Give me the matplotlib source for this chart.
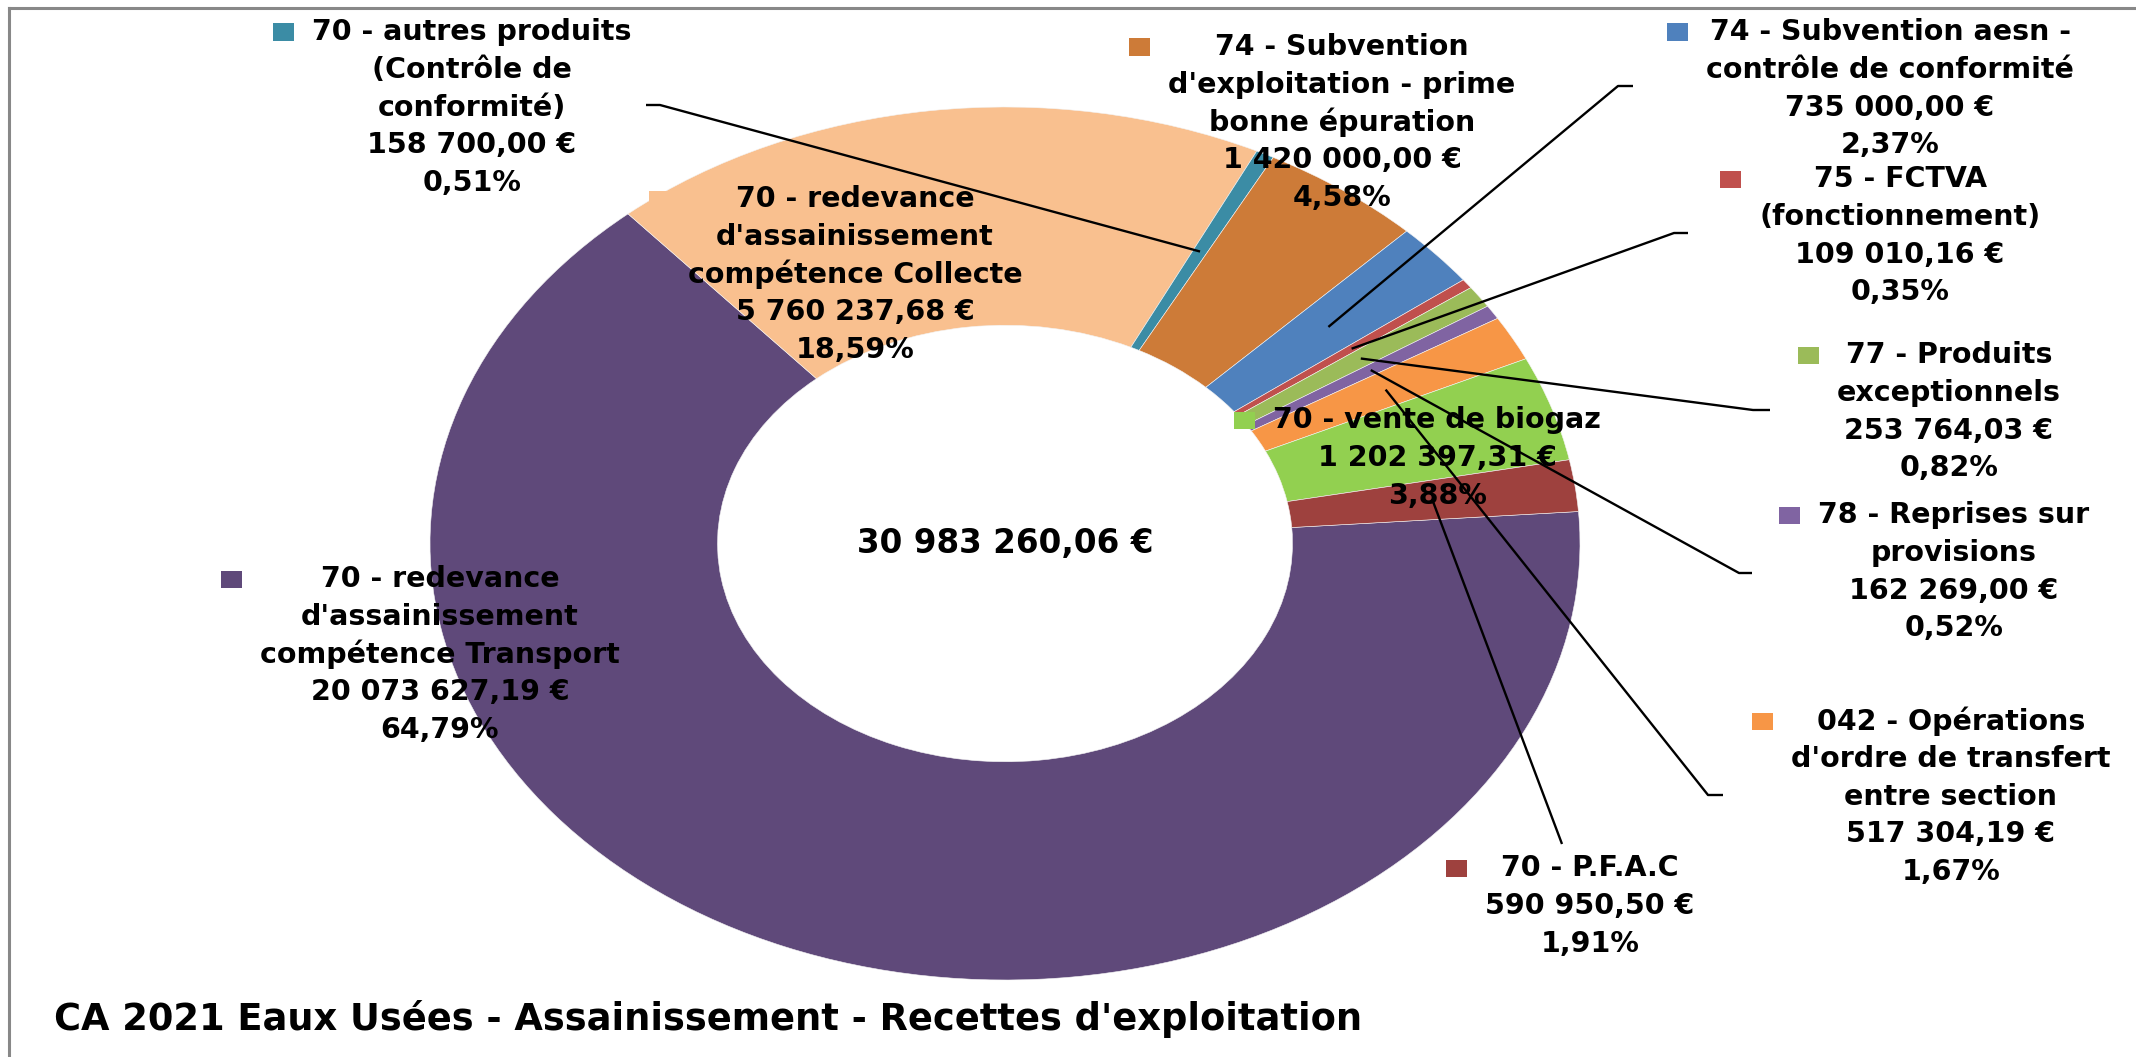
import numpy as np
import matplotlib
matplotlib.use('Agg')
import matplotlib.pyplot as plt
from matplotlib.patches import Rectangle

W, H = 2136, 1057
DPI = 100

# data, in clockwise order starting at 3 o'clock
categories = [
    "70 - redevance\nd'assainissement\ncompétence Transport",
    "70 - redevance\nd'assainissement\ncompétence Collecte",
    "70 - autres produits\n(Contrôle de\nconformité)",
    "74 - Subvention\nd'exploitation - prime\nbonne épuration",
    "74 - Subvention aesn -\ncontrôle de conformité",
    "75 - FCTVA\n(fonctionnement)",
    "77 - Produits\nexceptionnels",
    "78 - Reprises sur\nprovisions",
    "042 - Opérations\nd'ordre de transfert\nentre section",
    "70 - vente de biogaz",
    "70 - P.F.A.C",
]
values = [20073627.19, 5760237.68, 158700.00, 1420000.00, 735000.00,
          109010.16, 253764.03, 162269.00, 517304.19, 1202397.31, 590950.50]
colors = ['#5F497A', '#F9C08F', '#3B8CA5', '#CD7B38', '#4F81BD', '#C0504D',
          '#9BBB59', '#8064A2', '#F79646', '#92D050', '#9E413E']
title = "CA 2021 Eaux Usées - Assainissement - Recettes d'exploitation"

# layout (pixels from top-left): label centre x, first line y
label_pos = [(440, 579), (855, 199), (472, 32), (1342, 47), (1890, 32),
             (1900, 179), (1949, 355), (1954, 515), (1951, 721),
             (1437, 420), (1590, 868)]
# leader lines: index -> (x, y, stub length)
leaders = {2: (646, 105, 14), 4: (1633, 86, -15), 5: (1688, 233, -14),
           6: (1770, 410, -17), 7: (1752, 573, -13), 8: (1723, 795, -15),
           10: (1562, 844, 0)}
cx, cy, rx, ry = 1005, 543.5, 575, 436.5
line_step = 37.8
fsize = 20.5


def euro(v):
    s = f"{v:,.2f}".replace(',', ' ').replace('.', ',')
    return s + " €"


total = sum(values)

plt.rcParams['font.family'] = ['DejaVu Sans']
fig = plt.figure(figsize=(W / DPI, H / DPI), dpi=DPI)
ax = fig.add_axes([0, 0, 1, 1])
wedges, _ = ax.pie(values, colors=colors, startangle=4.2, counterclock=False,
                   radius=1, wedgeprops=dict(width=0.5, edgecolor='#f4f4f4', linewidth=0.4))
ax.set_aspect('auto')
ax.set_xlim(-cx / rx, (W - cx) / rx)
ax.set_ylim((cy - H) / ry, cy / ry)
ax.axis('off')


def to_data(x, y):
    return (x - cx) / rx, (cy - y) / ry


ax.text(0, 0, euro(total), ha='center', va='center', fontsize=23.5,
        fontweight='bold', zorder=5)

texts = []
for i, cat in enumerate(categories):
    lines = cat.split('\n') + [euro(values[i]), f"{values[i] / total * 100:.2f}%".replace('.', ',')]
    x0, y0 = label_pos[i]
    objs = []
    for k, ln in enumerate(lines):
        tx, ty = to_data(x0, y0 + k * line_step)
        objs.append(ax.text(tx, ty, ln, ha='center', va='center', fontsize=fsize,
                            fontweight='bold', zorder=3))
    texts.append(objs)

fig.canvas.draw()
renderer = fig.canvas.get_renderer()
for i, objs in enumerate(texts):
    left = min(t.get_window_extent(renderer).x0 for t in objs)
    x0, y0 = label_pos[i]
    sx, sy = to_data(left - 18 - 21, y0 + 8.5)
    ax.add_patch(Rectangle((sx, sy), 21 / rx, 17 / ry, facecolor=colors[i],
                           edgecolor='none', zorder=3))

for i, (lx, ly, stub) in leaders.items():
    w = wedges[i]
    th = np.deg2rad((w.theta1 + w.theta2) / 2)
    px, py = 0.75 * np.cos(th), 0.75 * np.sin(th)
    a = to_data(lx, ly)
    b = to_data(lx + stub, ly)
    ax.plot([a[0], b[0], px], [a[1], b[1], py], color='black', lw=1.7, zorder=4,
            solid_capstyle='butt')

fig.text(54 / W, 1 - 1030 / H, title, ha='left', va='baseline', fontsize=26.5,
         fontweight='bold')

# chart frame (top and left edges visible)
fig.add_artist(plt.Line2D([9 / W, 1], [1 - 7.5 / H, 1 - 7.5 / H], color='#888888', lw=2.2))
fig.add_artist(plt.Line2D([9 / W, 9 / W], [0, 1 - 7.5 / H], color='#888888', lw=2.2))

fig.savefig('out.png', dpi=DPI, facecolor='white')
